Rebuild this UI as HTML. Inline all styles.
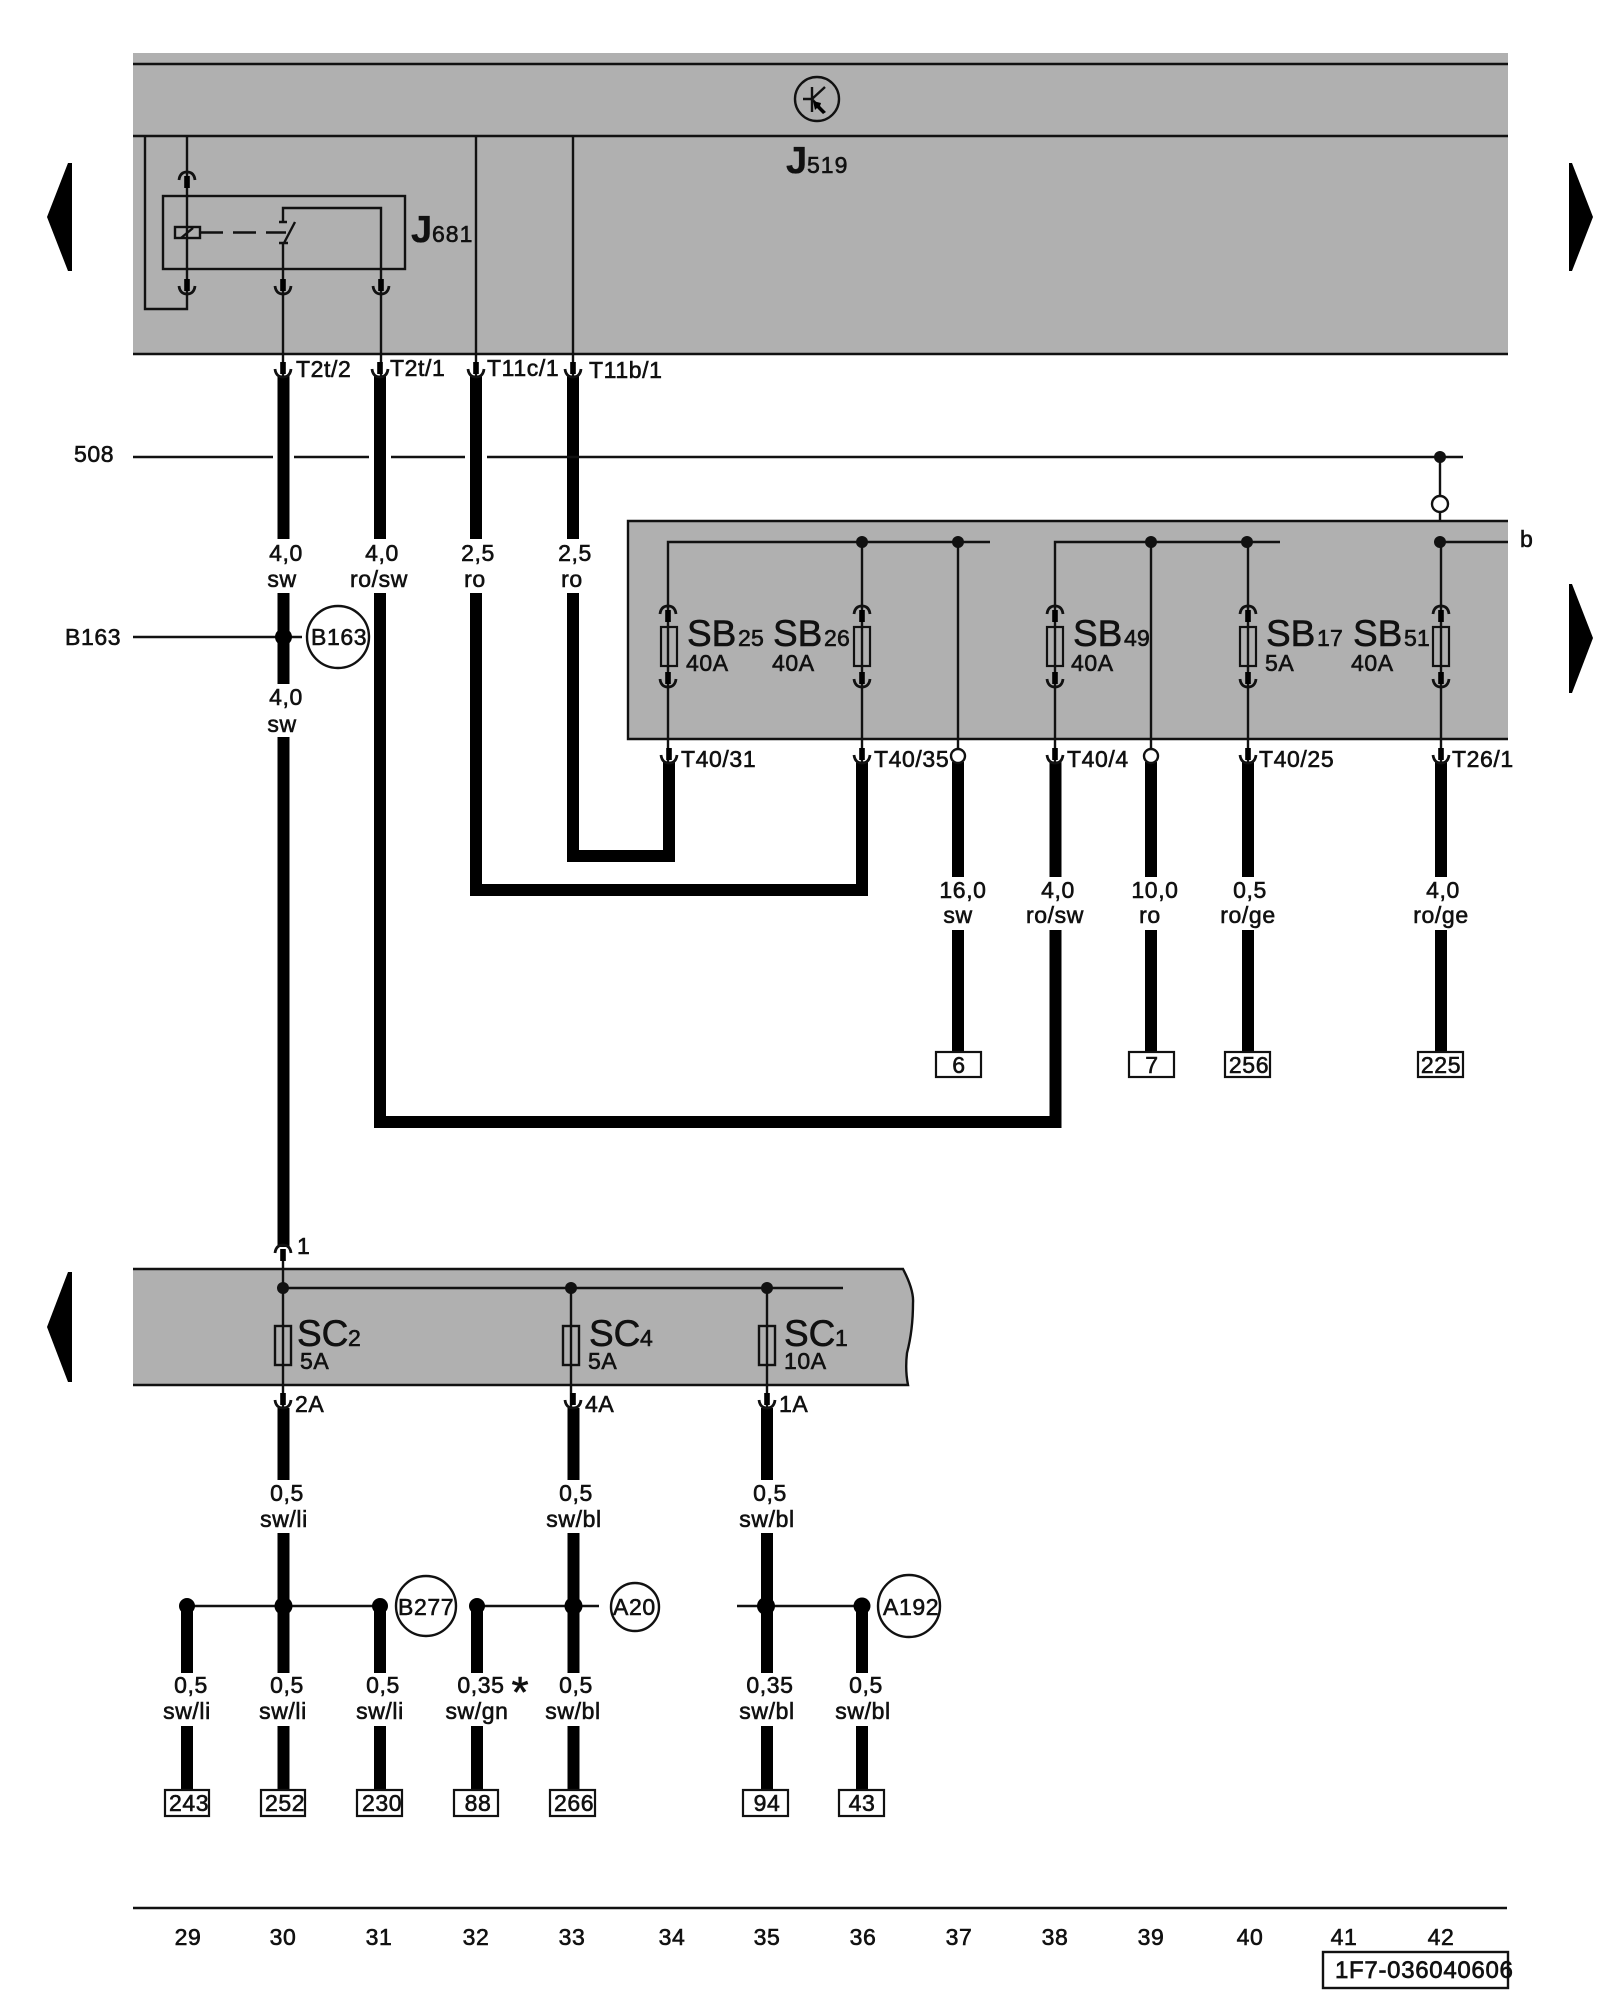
<!DOCTYPE html>
<html><head><meta charset="utf-8">
<style>
html,body{margin:0;padding:0;background:#fff}
svg{display:block}
text{font-family:"Liberation Sans",sans-serif;fill:#111;stroke:#111;stroke-width:.6;font-size:23px;letter-spacing:.6px}
.m{text-anchor:middle}
.big{font-size:37px;stroke-width:.6;letter-spacing:0}
.j{font-size:38px;font-weight:bold;stroke-width:.3;letter-spacing:0}
.sub{font-size:23px;letter-spacing:.2px;stroke-width:.6}
.thin{stroke:#111;stroke-width:2.4;fill:none}
.th{stroke:#000;stroke-width:12;fill:none}
</style></head><body>
<svg width="1600" height="2000" viewBox="0 0 1600 2000" xmlns="http://www.w3.org/2000/svg">
<defs>
<g id="d"><path d="M-8,-8 Q-7,0 0,0 Q7,0 8,-8" fill="none" stroke="#111" stroke-width="2.8"/><rect x="-2.8" y="-15" width="5.600" height="12" fill="#000"/></g>
<g id="u"><path d="M-8,8 Q-7,0 0,0 Q7,0 8,8" fill="none" stroke="#111" stroke-width="2.8"/><rect x="-2.8" y="4" width="5.600" height="12" fill="#000"/></g>
</defs>
<rect width="1600" height="2000" fill="#fff"/>

<!-- J519 panel -->
<rect x="133" y="53" width="1375" height="301" fill="#b0b0b0"/>
<path class="thin" d="M133,64H1508M133,136H1508M133,354H1508"/>
<circle cx="817" cy="99" r="22" class="thin"/>
<path class="thin" d="M812,87V112M803,99H812M812,99L825,87M812,99L822,110"/>
<path d="M813,101L821,103L820,106L826,112L823,114L817,108L815,110Z" fill="#000"/>
<text class="j" x="786" y="173">J</text><text class="sub" x="807" y="173" style="letter-spacing:1px">519</text>

<!-- J681 -->
<rect x="163" y="196" width="242" height="73" class="thin"/>
<path class="thin" d="M145,136V309H187V136"/>
<rect x="175" y="227" width="25" height="11" class="thin"/>
<path class="thin" d="M181,238L193,228"/>
<path class="thin" d="M200,232.500H223M233,232.500H256M266,232.500H286"/>
<path class="thin" d="M283,354V243M279,243H288M284,243L295,222M279,222H287M283,222V208H381V354"/>
<use href="#u" x="187" y="172"/>
<use href="#d" x="187" y="294"/><use href="#d" x="283" y="294"/><use href="#d" x="381" y="294"/>
<text class="j" x="411" y="242">J</text><text class="sub" x="432" y="242" style="letter-spacing:1px">681</text>
<path class="thin" d="M476,136V378M573,136V378M283,354V378M381,354V378"/>

<!-- Top thick wires -->
<path class="th" d="M283.500,376V539M283.500,593V684M283.500,737V1247"/>
<path class="th" d="M380,376V539M380,593V1122H1055.500V930"/>
<path class="th" d="M476,376V539M476,593V890H862V762"/>
<path class="th" d="M573,376V539M573,593V856H669V762"/>
<use href="#d" x="283" y="377"/><use href="#d" x="380" y="377"/><use href="#d" x="476" y="377"/><use href="#d" x="573" y="377"/>
<text x="296" y="377">T2t/2</text><text x="390" y="376">T2t/1</text><text x="487" y="376">T11c/1</text><text x="589" y="378">T11b/1</text>

<!-- 508 -->
<text x="74" y="462">508</text>
<path class="thin" d="M133,457H273M294,457H369M391,457H465M487,457H1463M1440,457V542"/>
<circle cx="1440" cy="457" r="6" fill="#111"/>
<circle cx="1440" cy="504" r="8" fill="#fff" stroke="#111" stroke-width="2.400"/>

<!-- B163 -->
<text x="65" y="645">B163</text>
<path class="thin" d="M133,637H302"/>
<circle cx="283.500" cy="637" r="8.500" fill="#000"/>
<circle cx="338" cy="637" r="31" class="thin"/>
<text x="311" y="645">B163</text>

<text class="m" x="286" y="561">4,0</text><text class="m" x="282" y="587">sw</text>
<text class="m" x="286" y="705">4,0</text><text class="m" x="282" y="732">sw</text>
<text class="m" x="382" y="561">4,0</text><text class="m" x="379" y="587">ro/sw</text>
<text class="m" x="478" y="561">2,5</text><text class="m" x="475" y="587">ro</text>
<text class="m" x="575" y="561">2,5</text><text class="m" x="572" y="587">ro</text>

<!-- SB panel -->
<rect x="627" y="521" width="881" height="218" fill="#b0b0b0"/>
<path class="thin" d="M1508,521H628V739H1508"/>
<path class="thin" d="M668,762V542H990M862,762V542M958,750V542"/>
<path class="thin" d="M1055,762V542H1280M1151,750V542M1248,762V542M1441,762V542H1508"/>
<g fill="#111"><circle cx="862" cy="542" r="6"/><circle cx="958" cy="542" r="6"/><circle cx="1151" cy="542" r="6"/><circle cx="1247" cy="542" r="6"/><circle cx="1440" cy="542" r="6"/></g>
<g stroke="#111" stroke-width="2.2" fill="none">
<rect x="661" y="627" width="16" height="39"/><rect x="854" y="627" width="16" height="39"/><rect x="1047" y="627" width="16" height="39"/><rect x="1240" y="627" width="16" height="39"/><rect x="1433" y="627" width="16" height="39"/>
</g>
<use href="#u" x="668" y="606"/><use href="#u" x="862" y="606"/><use href="#u" x="1055" y="606"/><use href="#u" x="1248" y="606"/><use href="#u" x="1441" y="606"/>
<use href="#d" x="668" y="687"/><use href="#d" x="862" y="687"/><use href="#d" x="1055" y="687"/><use href="#d" x="1248" y="687"/><use href="#d" x="1441" y="687"/>

<text class="big" x="687" y="646">SB</text><text class="sub" x="738" y="646">25</text><text x="686" y="671">40A</text>
<text class="big" x="773" y="646">SB</text><text class="sub" x="824" y="646">26</text><text x="772" y="671">40A</text>
<text class="big" x="1073" y="646">SB</text><text class="sub" x="1124" y="646">49</text><text x="1071" y="671">40A</text>
<text class="big" x="1266" y="646">SB</text><text class="sub" x="1317" y="646">17</text><text x="1265" y="671">5A</text>
<text class="big" x="1353" y="646">SB</text><text class="sub" x="1404" y="646">51</text><text x="1351" y="671">40A</text>
<text x="1520" y="547">b</text>

<!-- below SB -->
<path class="th" d="M958,762V877M958,930V1052"/>
<path class="th" d="M1055.500,762V877"/>
<path class="th" d="M1151,762V877M1151,930V1052"/>
<path class="th" d="M1248,762V877M1248,930V1052"/>
<path class="th" d="M1441,762V877M1441,930V1052"/>
<use href="#d" x="669" y="763"/><use href="#d" x="862" y="763"/><use href="#d" x="1055" y="763"/><use href="#d" x="1248" y="763"/><use href="#d" x="1441" y="763"/>
<circle cx="958" cy="756" r="7" fill="#fff" stroke="#111" stroke-width="2.400"/>
<circle cx="1151" cy="756" r="7" fill="#fff" stroke="#111" stroke-width="2.400"/>
<text x="681" y="767">T40/31</text><text x="874" y="767">T40/35</text><text x="1067" y="767">T40/4</text><text x="1259" y="767">T40/25</text><text x="1452" y="767">T26/1</text>
<text class="m" x="963" y="898">16,0</text><text class="m" x="958" y="923">sw</text>
<text class="m" x="1058" y="898">4,0</text><text class="m" x="1055" y="923">ro/sw</text>
<text class="m" x="1155" y="898">10,0</text><text class="m" x="1150" y="923">ro</text>
<text class="m" x="1250" y="898">0,5</text><text class="m" x="1248" y="923">ro/ge</text>
<text class="m" x="1443" y="898">4,0</text><text class="m" x="1441" y="923">ro/ge</text>
<g fill="#fff" stroke="#111" stroke-width="2.2">
<rect x="936" y="1052" width="45" height="25"/><rect x="1129" y="1052" width="45" height="25"/><rect x="1225" y="1052" width="45" height="25"/><rect x="1418" y="1052" width="45" height="25"/>
</g>
<text class="m" x="959" y="1073">6</text><text class="m" x="1152" y="1073">7</text><text class="m" x="1249" y="1073">256</text><text class="m" x="1441" y="1073">225</text>

<!-- SC panel -->
<path d="M133,1269H903Q914,1290 913,1303Q913,1330 907,1353Q905,1370 908,1385H133Z" fill="#b0b0b0"/>
<path class="thin" d="M133,1269H903Q914,1290 913,1303Q913,1330 907,1353Q905,1370 908,1385H133"/>
<path class="thin" d="M283,1250V1408M283,1288H843M571,1288V1408M767,1288V1408"/>
<g fill="#111"><circle cx="283" cy="1288" r="6"/><circle cx="571" cy="1288" r="6"/><circle cx="767" cy="1288" r="6"/></g>
<rect x="275" y="1326" width="16" height="39" class="thin"/><rect x="563" y="1326" width="16" height="39" class="thin"/><rect x="759" y="1326" width="16" height="39" class="thin"/>
<text class="big" x="297" y="1346">SC</text><text class="sub" x="348" y="1346">2</text><text x="300" y="1369">5A</text>
<text class="big" x="589" y="1346">SC</text><text class="sub" x="640" y="1346">4</text><text x="588" y="1369">5A</text>
<text class="big" x="784" y="1346">SC</text><text class="sub" x="835" y="1346">1</text><text x="784" y="1369">10A</text>
<use href="#u" x="283" y="1245"/>
<text x="297" y="1254">1</text>

<!-- below SC -->
<path class="th" d="M283.500,1408V1480M283.500,1533V1673M283.500,1726V1790"/>
<path class="th" d="M573.500,1408V1480M573.500,1533V1673M573.500,1726V1790"/>
<path class="th" d="M767,1408V1480M767,1533V1673M767,1726V1790"/>
<path class="th" d="M187,1606V1673M187,1726V1790"/>
<path class="th" d="M380,1606V1673M380,1726V1790"/>
<path class="th" d="M477,1606V1673M477,1726V1790"/>
<path class="th" d="M862,1606V1673M862,1726V1790"/>
<use href="#d" x="283" y="1408"/><use href="#d" x="573" y="1408"/><use href="#d" x="767" y="1408"/>
<text x="295" y="1412">2A</text><text x="585" y="1412">4A</text><text x="779" y="1412">1A</text>
<text class="m" x="287" y="1501">0,5</text><text class="m" x="284" y="1527">sw/li</text>
<text class="m" x="576" y="1501">0,5</text><text class="m" x="574" y="1527">sw/bl</text>
<text class="m" x="770" y="1501">0,5</text><text class="m" x="767" y="1527">sw/bl</text>

<path class="thin" d="M187,1606H380M477,1606H599M737,1606H862"/>
<g fill="#000">
<circle cx="187" cy="1606" r="8"/><circle cx="283.500" cy="1606" r="9"/><circle cx="380" cy="1606" r="8"/><circle cx="477" cy="1606" r="8"/><circle cx="573.500" cy="1606" r="9"/><circle cx="766" cy="1606" r="9"/><circle cx="862" cy="1606" r="8.500"/>
</g>
<circle cx="426" cy="1606" r="30" class="thin"/><text x="398" y="1615">B277</text>
<circle cx="635" cy="1607" r="24" class="thin"/><text x="613" y="1615">A20</text>
<circle cx="909" cy="1606" r="31" class="thin"/><text x="883" y="1615">A192</text>

<text class="m" x="191" y="1693">0,5</text><text class="m" x="187" y="1719">sw/li</text>
<text class="m" x="287" y="1693">0,5</text><text class="m" x="283" y="1719">sw/li</text>
<text class="m" x="383" y="1693">0,5</text><text class="m" x="380" y="1719">sw/li</text>
<text class="m" x="481" y="1693">0,35</text><text class="m" x="477" y="1719">sw/gn</text>
<text class="m" x="520" y="1707" style="font-size:44px;letter-spacing:0">*</text>
<text class="m" x="576" y="1693">0,5</text><text class="m" x="573" y="1719">sw/bl</text>
<text class="m" x="770" y="1693">0,35</text><text class="m" x="767" y="1719">sw/bl</text>
<text class="m" x="866" y="1693">0,5</text><text class="m" x="863" y="1719">sw/bl</text>

<g fill="#fff" stroke="#111" stroke-width="2.2">
<rect x="165" y="1790" width="44" height="26"/><rect x="261" y="1790" width="44" height="26"/><rect x="357" y="1790" width="45" height="26"/><rect x="454" y="1790" width="44" height="26"/><rect x="550" y="1790" width="45" height="26"/><rect x="743" y="1790" width="45" height="26"/><rect x="839" y="1790" width="45" height="26"/>
</g>
<text x="169" y="1811">243</text><text x="265" y="1811">252</text><text x="362" y="1811">230</text><text class="m" x="478" y="1811">88</text><text x="554" y="1811">266</text><text class="m" x="767" y="1811">94</text><text class="m" x="862" y="1811">43</text>

<!-- Arrows -->
<path d="M68,163H72V271H68L47,217Z" fill="#000"/>
<path d="M68,1272H72V1382H68L47,1327Z" fill="#000"/>
<path d="M1569,163H1572L1593,217L1572,271H1569Z" fill="#000"/>
<path d="M1569,584H1572L1593,638L1572,693H1569Z" fill="#000"/>

<!-- footer -->
<path class="thin" d="M133,1908H1507"/>
<g>
<text class="m" x="188" y="1945">29</text><text class="m" x="283" y="1945">30</text><text class="m" x="379" y="1945">31</text><text class="m" x="476" y="1945">32</text><text class="m" x="572" y="1945">33</text><text class="m" x="672" y="1945">34</text><text class="m" x="767" y="1945">35</text><text class="m" x="863" y="1945">36</text><text class="m" x="959" y="1945">37</text><text class="m" x="1055" y="1945">38</text><text class="m" x="1151" y="1945">39</text><text class="m" x="1250" y="1945">40</text><text class="m" x="1344" y="1945">41</text><text class="m" x="1441" y="1945">42</text>
</g>
<rect x="1323" y="1952" width="185" height="36" fill="#fff" stroke="#111" stroke-width="2.400"/>
<text x="1335" y="1978" style="font-size:24px;letter-spacing:.7px;stroke-width:.7">1F7-036040606</text>
</svg>
</body></html>
